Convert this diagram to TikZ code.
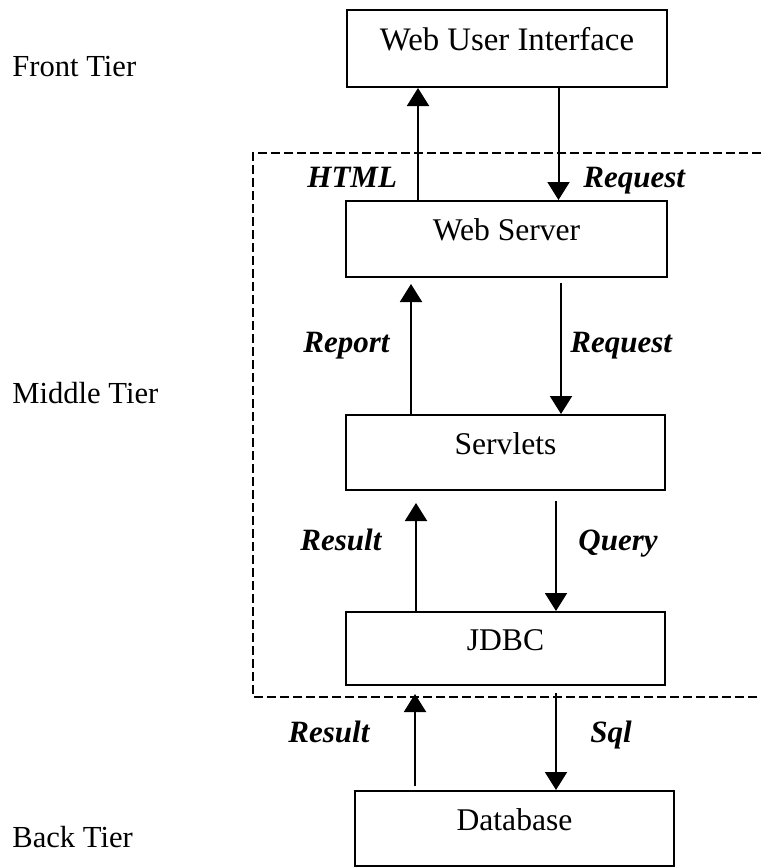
\documentclass[tikz,border=0pt]{standalone}
\usepackage{fontspec}
\setmainfont{Liberation Serif}
\usetikzlibrary{arrows.meta,calc}
\begin{document}
\begin{tikzpicture}[x=0.5pt,y=-0.5pt,
  box/.style={draw, line width=1pt, inner sep=0pt, text height=10pt, text depth=8.5pt,
    font=\fontsize{15.8}{18}\selectfont},
  arr/.style={line width=1pt, -{Triangle[length=9pt,width=11pt]}},
  flow/.style={anchor=base west, inner sep=0pt, font=\fontsize{15.5}{18}\selectfont\bfseries\itshape},
  tier/.style={anchor=base west, inner sep=0pt, font=\fontsize{15.3}{18}\selectfont},
  tierframe/.style={line width=1pt, dash pattern=on 4.5pt off 2pt}]
\useasboundingbox (0,0) rectangle (761,867);

% tiers
\node[tier] (front) at (12,76) {Front Tier};
\node[tier] (middle) at (12,403) {Middle Tier};
\node[tier] (back) at (12,847) {Back Tier};

% middle tier frame, open on the right
\draw[tierframe] (761,153) -- (253,153) -- (253,697) -- (761,697);

% components
\node[box, minimum width=160pt, minimum height=38.5pt, font=\fontsize{16.4}{18}\selectfont] (wui) at (507,48.5) {Web User Interface};
\node[box, minimum width=160.5pt, minimum height=38pt] (ws) at (506.5,239) {Web Server};
\node[box, minimum width=159.5pt, minimum height=37.5pt] (srv) at (505.5,452.5) {Servlets};
\node[box, minimum width=159.5pt, minimum height=36.5pt] (jdbc) at (505.5,648.5) {JDBC};
\node[box, minimum width=159.5pt, minimum height=37.5pt] (db) at (514.5,828.5) {Database};

% flows between components
\draw[arr] ($(ws.north west)+(73,0)$) coordinate (a1) -- (a1 |- wui.south);
\draw[arr] ($(wui.south west)+(212.5,0)$) coordinate (a2) -- (a2 |- ws.north);
\draw[arr, shorten >=3pt] ($(srv.north west)+(66,0)$) coordinate (a3) -- (a3 |- ws.south);
\draw[arr, shorten <=2.5pt] ($(ws.south west)+(216,0)$) coordinate (a4) -- (a4 |- srv.north);
\draw[arr, shorten >=6pt] ($(jdbc.north west)+(71,0)$) coordinate (a5) -- (a5 |- srv.south);
\draw[arr, shorten <=5pt] ($(srv.south west)+(211,0)$) coordinate (a6) -- (a6 |- jdbc.north);
\draw[arr, shorten <=2pt, shorten >=4pt] ($(db.north west)+(61,0)$) coordinate (a7) -- (a7 |- jdbc.south);
\draw[arr, shorten <=3.5pt] ($(jdbc.south west)+(211,0)$) coordinate (a8) -- (a8 |- db.north);

% flow labels
\node[flow] (l1) at (307,187) {HTML};
\node[flow] (l2) at (583,187) {Request};
\node[flow] (l3) at (303,352) {Report};
\node[flow] (l4) at (570,352) {Request};
\node[flow] (l5) at (300,550) {Result};
\node[flow] (l6) at (578,550) {Query};
\node[flow] (l7) at (288,742) {Result};
\node[flow] (l8) at (590,742) {Sql};
\end{tikzpicture}
\end{document}
